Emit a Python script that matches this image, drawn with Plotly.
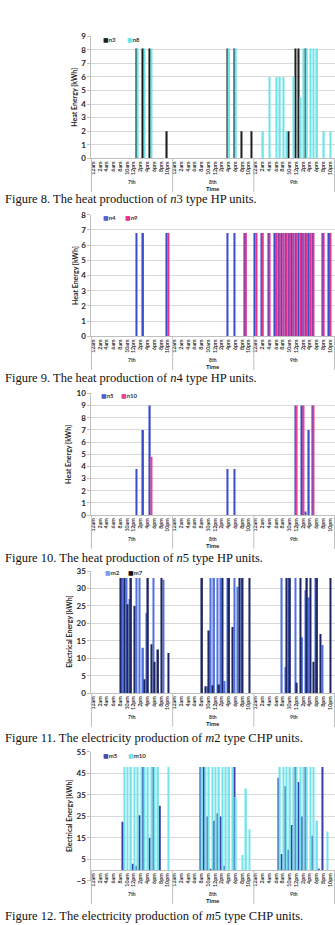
import plotly.graph_objects as go

W, H = 335, 925

hour_labels = ["12am", "2am", "4am", "6am", "8am", "10am", "12pm", "2pm", "4pm", "6pm", "8pm", "10pm"]
days = ["7th", "8th", "9th"]
hours = list(range(72))
tick_vals = list(range(0, 72, 2))
tick_text = hour_labels * 3

# ---- Figure 8: n3 / n8 heat (kWh) ----
n3 = ([0, 0, 0, 0, 0, 0, 0, 0, 0, 0, 0, 0, 0, 8.1, 0, 8.1, 0, 8.1, 0, 0, 0, 0, 2, 0]
      + [0, 0, 0, 0, 0, 0, 0, 0, 0, 0, 0, 0, 0, 0, 0, 0, 8.1, 0, 8.1, 0, 2, 0, 0, 2]
      + [0, 0, 0, 0, 0, 0, 0, 0, 0, 0, 2, 0, 8.1, 8.1, 0, 8.1, 0, 0, 0, 0, 0, 0, 0, 0])
n8 = ([0, 0, 0, 0, 0, 0, 0, 0, 0, 0, 0, 0, 0, 8.1, 0, 8.1, 0, 8.1, 0, 0, 0, 0, 0, 0]
      + [0, 0, 0, 0, 0, 0, 0, 0, 0, 0, 0, 0, 0, 0, 0, 0, 8.1, 0, 8.1, 0, 0, 0, 0, 0]
      + [0, 0, 2, 0, 6, 0, 6, 6, 6, 2, 0, 6, 0, 4.5, 8.1, 8.1, 8.1, 8.1, 8.1, 0, 2, 0, 2, 0])

# ---- Figure 9: n4 / n9 heat (kWh) ----
n4 = ([0, 0, 0, 0, 0, 0, 0, 0, 0, 0, 0, 0, 0, 6.8, 0, 6.8, 0, 0, 0, 0, 0, 0, 6.8, 0]
      + [0, 0, 0, 0, 0, 0, 0, 0, 0, 0, 0, 0, 0, 0, 0, 0, 6.8, 0, 6.8, 0, 0, 6.8, 0, 0]
      + [6.8, 0, 6.8, 0, 6.8, 0, 6.8, 6.8, 6.8, 6.8, 6.8, 6.8, 6.8, 6.8, 6.8, 6.8, 6.8, 6.8, 0, 0, 6.8, 0, 6.8, 0])
n9 = ([0, 0, 0, 0, 0, 0, 0, 0, 0, 0, 0, 0, 0, 0, 0, 0, 0, 0, 0, 0, 0, 0, 6.8, 0]
      + [0, 0, 0, 0, 0, 0, 0, 0, 0, 0, 0, 0, 0, 0, 0, 0, 0, 0, 0, 0, 0, 6.8, 0, 0]
      + [6.8, 0, 6.8, 0, 6.8, 0, 6.8, 6.8, 6.8, 6.8, 6.8, 6.8, 6.8, 6.8, 6.8, 6.8, 6.8, 6.8, 0, 0, 6.8, 0, 6.8, 0])

# ---- Figure 10: n5 / n10 heat (kWh) ----
n5 = ([0, 0, 0, 0, 0, 0, 0, 0, 0, 0, 0, 0, 0, 3.8, 0, 7, 0, 9, 0, 0, 0, 0, 0, 0]
      + [0, 0, 0, 0, 0, 0, 0, 0, 0, 0, 0, 0, 0, 0, 0, 0, 3.8, 0, 3.8, 0, 0, 0, 0, 0]
      + [0, 0, 0, 0, 0, 0, 0, 0, 0, 0, 0, 0, 9, 0, 9, 0.3, 7, 9, 0, 0, 0, 0, 0, 0])
n10 = ([0, 0, 0, 0, 0, 0, 0, 0, 0, 0, 0, 0, 0, 0, 0, 0, 0, 4.8, 0, 0, 0, 0, 0, 0]
       + [0] * 24
       + [0, 0, 0, 0, 0, 0, 0, 0, 0, 0, 0, 0, 9, 0, 9, 0, 0, 9, 0, 0, 0, 0, 0, 0])

# ---- Figure 11: m2 / m7 electricity (kWh) ----
m2 = ([0, 0, 0, 0, 0, 0, 0, 0, 0, 33, 33, 27, 0, 33, 33, 13, 23, 0, 33, 0, 0, 32.5, 0, 0]
      + [0, 0, 0, 0, 0, 0, 0, 0, 0, 0, 2, 33, 33, 33, 33, 3.5, 33, 0, 33, 30.5, 33, 0, 0, 0]
      + [0, 0, 0, 0, 0, 0, 0, 0, 33, 7.5, 33, 0, 33, 0, 16, 29.5, 27.5, 0, 33, 0, 13.8, 0, 0, 0])
m7 = ([0, 0, 0, 0, 0, 0, 0, 0, 33, 33, 25.5, 33, 25, 0, 0, 4, 33, 14, 9, 12.5, 33, 0, 11.5, 0]
      + [0, 0, 0, 0, 0, 0, 0, 0, 33, 2, 18, 2.3, 0, 2.5, 33, 0, 33, 19, 0, 33, 33, 0, 33, 0]
      + [0, 0, 0, 0, 0, 0, 0, 0, 0, 33, 33, 0, 3, 33, 0, 33, 33, 9, 33, 17, 0, 0, 33, 0])

# ---- Figure 12: m5 / m10 electricity (kWh) ----
m5 = ([0, 0, 0, 0, 0, 0, 0, 0, 0, 22.5, 0, 0, 3, 2, 25.5, 48, 0, 15, 48, 0, 30, 0, 0, 0]
      + [0, 0, 0, 0, 0, 0, 0, 0, 48, 48, 25, 0.5, 23, 26.5, 25, 2, 0, 0, 48, 0, 0, 0, 0, 0]
      + [0, 0, 0, 0, 0, 0, 0, 43, 7.5, 39, 9.5, 21, 48, 41, 25, 48, 0, 16, 0, 0.5, 48, 0, 0, 0])
m10 = ([0, 0, 0, 0, 0, 0, 0, 0, 0, 48, 48, 48, 48, 48, 48, 48, 48, 48, 48, 48, 0, 0, 48, 0]
       + [0, 0, 0, 0, 0, 0, 0, 0, 48, 48, 48, 48, 48, 48, 48, 48, 48, 48, 34, 0, 7, 38, 19, 0]
       + [0, 0, 0, 0, 0, 0, 0, 48, 48, 48, 48, 48, 48, 48, 48, 48, 48, 48, 23, 0, 0, 18, 0, 0])

charts = [
    dict(s=[("n3", n3, "#1e1e1e"), ("n8", n8, "#6fe3e8")], top=31.5, bot=155, axy=155,
         rng=[0, 9], tick0=0, dtick=1, ytitle="Heat Energy [kWh]", ytx=73,
         cap="Figure 8. The heat production of <i>n</i>3 type HP units.", capy=196,
         leg=[(100, 35, "n3", "#1e1e1e"), (124, 35, "n8", "#6fe3e8")]),
    dict(s=[("n4", n4, "#3b4cc9"), ("n9", n9, "#e0358f")], top=212, bot=335, axy=335,
         rng=[0, 8], tick0=0, dtick=1, ytitle="Heat Energy [kWh]", ytx=73,
         cap="Figure 9. The heat production of <i>n</i>4 type HP units.", capy=377,
         leg=[(100, 215, "n4", "#5560d0"), (122, 215, "n9", "#e0358f")]),
    dict(s=[("n5", n5, "#3b4cc9"), ("n10", n10, "#e8428c")], top=392.7, bot=515.7, axy=515.7,
         rng=[0, 10], tick0=0, dtick=1, ytitle="Heat Energy [kWh]", ytx=67,
         cap="Figure 10. The heat production of <i>n</i>5 type HP units.", capy=559,
         leg=[(98, 395, "n5", "#5560d0"), (118, 395, "n10", "#e8428c")]),
    dict(s=[("m2", m2, "#4f72e0"), ("m7", m7, "#1d2660")], top=572.3, bot=695.7, axy=695.7,
         rng=[0, 35], tick0=0, dtick=5, ytitle="Electrical Energy [kWh]", ytx=68,
         cap="Figure 11. The electricity production of <i>m</i>2 type CHP units.", capy=741.5,
         leg=[(102, 574, "m2", "#7a9cf0"), (125, 574, "m7", "#111111")]),
    dict(s=[("m5", m5, "#3a3da8"), ("m10", m10, "#74e4ea")], top=755, bot=885.5, axy=874.7,
         rng=[-5, 55], tick0=-5, dtick=10, ytitle="Electrical Energy [kWh]", ytx=68,
         cap="Figure 12. The electricity production of <i>m</i>5 type CHP units.", capy=921,
         leg=[(100, 759, "m5", "#4a4ab4"), (125, 759, "m10", "#74e4ea")]),
]

X0, X1 = 90, 335


def fy(px):
    return 1 - px / H


def fx(px):
    return px / W


fig = go.Figure()
annotations = []
shapes = []
GRID = "#d9d9d9"
LINE = "#bfbfbf"
SANS = "Lato, DejaVu Sans, sans-serif"

for i, c in enumerate(charts):
    sfx = "" if i == 0 else str(i + 1)
    for name, vals, col in c["s"]:
        fig.add_trace(go.Bar(x=hours, y=vals, name=name, marker_color=col,
                             marker_line_width=0, xaxis="x" + sfx, yaxis="y" + sfx))
    xa = dict(domain=[fx(X0), fx(X1)], range=[-0.5, 71.5], tickmode="array",
              tickvals=tick_vals, ticktext=tick_text, tickangle=-90,
              tickfont=dict(family=SANS, size=5.3, color="#333333", weight="bold"),
              showline=True, linecolor=LINE, linewidth=1, showgrid=False,
              zeroline=False, ticks="", fixedrange=True)
    if c["axy"] != c["bot"]:
        xa.update(anchor="free", position=fy(c["axy"]))
    else:
        xa.update(anchor="y" + sfx)
    ya = dict(domain=[fy(c["bot"]), fy(c["top"])], range=c["rng"], tick0=c["tick0"],
              dtick=c["dtick"], showgrid=True, gridcolor=GRID, gridwidth=1,
              zeroline=False, showline=True, linecolor=LINE, linewidth=1,
              ticks="outside", ticklen=3, tickcolor=LINE,
              tickfont=dict(family=SANS, size=8, color="#262626", weight="bold"),
              anchor="x" + sfx, fixedrange=True)
    fig.update_layout(**{"xaxis" + sfx: xa, "yaxis" + sfx: ya})

    # y title
    annotations.append(dict(text=c["ytitle"], x=fx(c["ytx"]), y=fy((c["top"] + c["bot"]) / 2),
                            xref="paper", yref="paper", textangle=-90, showarrow=False,
                            xanchor="center", yanchor="middle",
                            font=dict(family=SANS, size=7, color="#262626", weight="bold")))
    # legend
    for lx, ly, lt, lc in c["leg"]:
        annotations.append(dict(text='<span style="color:%s">■</span>%s' % (lc, lt),
                                x=fx(lx), y=fy(ly), xref="paper", yref="paper",
                                showarrow=False, xanchor="left", yanchor="middle",
                                font=dict(family=SANS, size=6, color="#333333", weight="bold")))
    # day labels and separators
    dw = (X1 - X0) / 3
    for d, dname in enumerate(days):
        annotations.append(dict(text=dname, x=fx(X0 + dw * (d + 0.5)), y=fy(c["axy"] + 24),
                                xref="paper", yref="paper", showarrow=False,
                                xanchor="center", yanchor="middle",
                                font=dict(family=SANS, size=5, color="#333333", weight="bold")))
    for d in range(4):
        xx = X0 + dw * d
        if d == 3:
            xx = X1 - 0.5
        shapes.append(dict(type="line", xref="paper", yref="paper", x0=fx(xx), x1=fx(xx),
                           y0=fy(c["axy"]), y1=fy(c["axy"] + 34),
                           line=dict(color=LINE, width=1)))
    annotations.append(dict(text="Time", x=fx((X0 + X1) / 2), y=fy(c["axy"] + 30.5),
                            xref="paper", yref="paper", showarrow=False,
                            xanchor="center", yanchor="middle",
                            font=dict(family=SANS, size=6, color="#262626", weight="bold")))
    # caption
    annotations.append(dict(text=c["cap"], x=fx(1), y=fy(c["capy"]), xref="paper", yref="paper",
                            showarrow=False, xanchor="left", yanchor="middle",
                            font=dict(family="Liberation Serif, Times New Roman, serif",
                                      size=12.5, color="#111111")))

fig.update_layout(width=W, height=H, margin=dict(l=0, r=0, t=0, b=0),
                  paper_bgcolor="white", plot_bgcolor="white", showlegend=False,
                  barmode="group", bargap=0.12, bargroupgap=0,
                  annotations=annotations, shapes=shapes)

fig.write_html("out.html")
